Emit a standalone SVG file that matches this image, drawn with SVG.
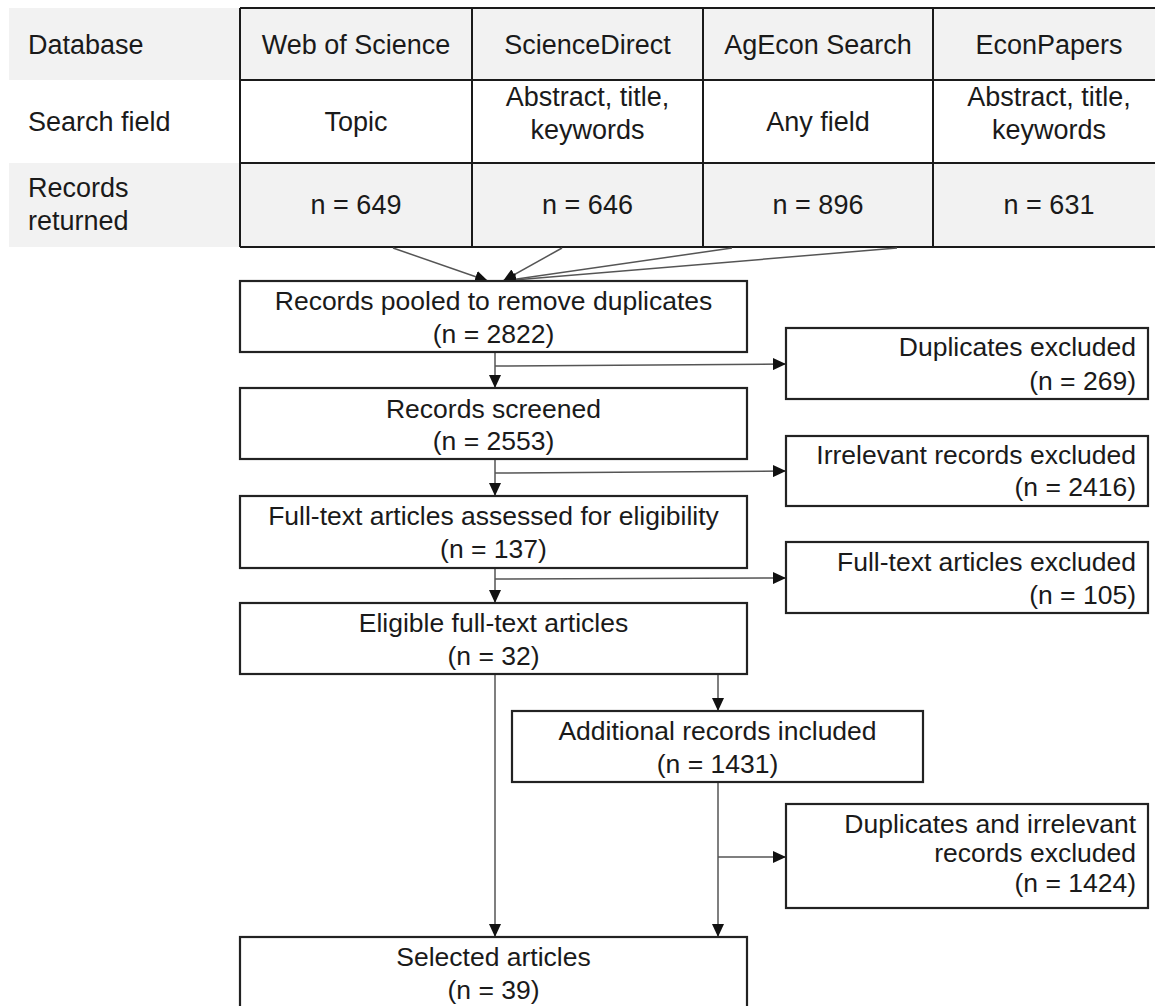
<svg xmlns="http://www.w3.org/2000/svg" width="1155" height="1006" viewBox="0 0 1155 1006">
<style>
text{font-family:"Liberation Sans",Arial,sans-serif;fill:#1a1a1a}
.t{font-size:27px}
.f{font-size:26.5px}
.c{text-anchor:middle}
.r{text-anchor:end}
.g{fill:#f2f2f2}
.tl{stroke:#1a1a1a;stroke-width:2;fill:none}
.box{fill:#ffffff;stroke:#222222;stroke-width:2.2}
.cn{stroke:#555555;stroke-width:1.5;fill:none}
.ar{marker-end:url(#ah)}
</style>
<defs>
<marker id="ah" markerUnits="userSpaceOnUse" markerWidth="13" markerHeight="12" refX="13" refY="6" orient="auto">
<path d="M0,0 L13,6 L0,12 z" fill="#111111"/>
</marker>
</defs>
<rect width="1155" height="1006" fill="#ffffff"/>
<g id="table">
<rect class="g" x="9" y="8" width="1160" height="72"/>
<rect class="g" x="9" y="163" width="1160" height="84"/>
<path class="tl" d="M240,8 H1170 M240,80 H1170 M240,163 H1170 M240,247 H1170 M240,8 V247 M472,8 V247 M703,8 V247 M933,8 V247"/>
<text class="t" x="28" y="54">Database</text>
<text class="t" x="28" y="131">Search field</text>
<text class="t" x="28" y="197">Records</text>
<text class="t" x="28" y="230">returned</text>
<text class="t c" x="356" y="54">Web of Science</text>
<text class="t c" x="587.5" y="54">ScienceDirect</text>
<text class="t c" x="818" y="54">AgEcon Search</text>
<text class="t c" x="1049" y="54">EconPapers</text>
<text class="t c" x="356" y="131">Topic</text>
<text class="t c" x="587.5" y="106">Abstract, title,</text>
<text class="t c" x="587.5" y="139">keywords</text>
<text class="t c" x="818" y="131">Any field</text>
<text class="t c" x="1049" y="106">Abstract, title,</text>
<text class="t c" x="1049" y="139">keywords</text>
<text class="t c" x="356" y="214">n = 649</text>
<text class="t c" x="587.5" y="214">n = 646</text>
<text class="t c" x="818" y="214">n = 896</text>
<text class="t c" x="1049" y="214">n = 631</text>
</g>
<g id="connectors">
<line class="cn ar" x1="393" y1="248" x2="488" y2="281"/>
<line class="cn ar" x1="562" y1="248" x2="503" y2="281"/>
<line class="cn ar" x1="732" y1="248" x2="503" y2="281"/>
<line class="cn ar" x1="897" y1="248" x2="503" y2="281"/>
<line class="cn ar" x1="495" y1="352" x2="495" y2="388"/>
<line class="cn ar" x1="495" y1="366" x2="786" y2="364"/>
<line class="cn ar" x1="495" y1="459" x2="495" y2="496"/>
<line class="cn ar" x1="495" y1="473" x2="786" y2="471"/>
<line class="cn ar" x1="495" y1="568" x2="495" y2="603"/>
<line class="cn ar" x1="495" y1="579" x2="786" y2="578"/>
<line class="cn ar" x1="495" y1="674" x2="495" y2="937"/>
<line class="cn ar" x1="718" y1="674" x2="718" y2="711"/>
<line class="cn ar" x1="718" y1="782" x2="718" y2="937"/>
<line class="cn ar" x1="718" y1="857" x2="786" y2="857"/>
</g>
<g id="pooled">
<rect class="box" x="240" y="281" width="507" height="71"/>
<text class="f c" x="493.5" y="310">Records pooled to remove duplicates</text>
<text class="f c" x="493.5" y="343">(n = 2822)</text>
</g>
<g id="dup-excluded">
<rect class="box" x="786" y="328" width="362" height="71"/>
<text class="f r" x="1136" y="356">Duplicates excluded</text>
<text class="f r" x="1136" y="390">(n = 269)</text>
</g>
<g id="screened">
<rect class="box" x="240" y="388" width="507" height="71"/>
<text class="f c" x="493.5" y="418">Records screened</text>
<text class="f c" x="493.5" y="450">(n = 2553)</text>
</g>
<g id="irrelevant-excluded">
<rect class="box" x="786" y="436" width="362" height="70"/>
<text class="f r" x="1136" y="464">Irrelevant records excluded</text>
<text class="f r" x="1136" y="496">(n = 2416)</text>
</g>
<g id="fulltext-assessed">
<rect class="box" x="240" y="496" width="507" height="72"/>
<text class="f c" x="493.5" y="525">Full-text articles assessed for eligibility</text>
<text class="f c" x="493.5" y="558">(n = 137)</text>
</g>
<g id="fulltext-excluded">
<rect class="box" x="786" y="542" width="362" height="71"/>
<text class="f r" x="1136" y="571">Full-text articles excluded</text>
<text class="f r" x="1136" y="604">(n = 105)</text>
</g>
<g id="eligible">
<rect class="box" x="240" y="603" width="507" height="71"/>
<text class="f c" x="493.5" y="632">Eligible full-text articles</text>
<text class="f c" x="493.5" y="665">(n = 32)</text>
</g>
<g id="additional">
<rect class="box" x="512" y="711" width="411" height="71"/>
<text class="f c" x="717.5" y="740">Additional records included</text>
<text class="f c" x="717.5" y="773">(n = 1431)</text>
</g>
<g id="dup-irrelevant-excluded">
<rect class="box" x="786" y="804" width="362" height="104"/>
<text class="f r" x="1136" y="833">Duplicates and irrelevant</text>
<text class="f r" x="1136" y="862">records excluded</text>
<text class="f r" x="1136" y="892">(n = 1424)</text>
</g>
<g id="selected">
<rect class="box" x="240" y="937" width="507" height="80"/>
<text class="f c" x="493.5" y="966">Selected articles</text>
<text class="f c" x="493.5" y="999">(n = 39)</text>
</g>
</svg>
